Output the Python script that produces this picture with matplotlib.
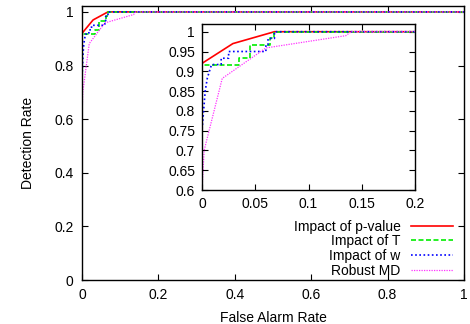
import matplotlib
matplotlib.use("Agg")
import matplotlib.pyplot as plt

plt.rcParams['font.family'] = ['Liberation Sans', 'DejaVu Sans']

labels = ["Impact of p-value", "Impact of T", "Impact of w", "Robust MD"]

pv_x = [0, 0, 0.029, 0.068, 1]
pv_y = [0, 0.92, 0.970, 1.0, 1.0]

t_x = [0, 0, 0.035, 0.035, 0.045, 0.045, 0.064, 0.064, 0.068, 0.068, 1]
t_y = [0, 0.917, 0.917, 0.934, 0.934, 0.967, 0.967, 0.983, 0.983, 1.0, 1.0]

w_x = [0, 0, 0.003, 0.005, 0.008, 0.009, 0.018, 0.018, 0.025, 0.025, 0.060, 0.060, 0.062, 0.062, 0.068, 0.068, 1]
w_y = [0, 0.75, 0.85, 0.883, 0.909, 0.917, 0.917, 0.933, 0.933, 0.950, 0.950, 0.967, 0.967, 0.983, 0.983, 1.0, 1.0]

md_x = [0, 0, 0.002, 0.019, 0.060, 0.135, 0.140, 1]
md_y = [0, 0.6, 0.70, 0.882, 0.959, 0.990, 1.0, 1.0]

series = [(pv_x, pv_y), (t_x, t_y), (w_x, w_y), (md_x, md_y)]
colors = ['#ff0000', '#00ee00', '#0000ff', '#ff33ff']
styles = [dict(ls='-', lw=1.2),
          dict(ls=(0, (3, 1.5)), lw=1.2),
          dict(ls=(0, (1, 1.5)), lw=1.2),
          dict(ls=(0, (1, 1)), lw=0.9)]

FS = 10

fig = plt.figure(figsize=(4.7, 3.24), dpi=100)
ax = fig.add_axes([82/470, 44/324, 382/470, 274/324])
for (x, y), c, s, lab in zip(series, colors, styles, labels):
    ax.plot(x, y, color=c, label=lab, **s)
ax.set_xlim(0, 1)
ax.set_ylim(0, 1.022)
ax.set_xticks([0, 0.2, 0.4, 0.6, 0.8, 1])
ax.set_xticklabels(['0', '0.2', '0.4', '0.6', '0.8', '1'])
ax.set_yticks([0, 0.2, 0.4, 0.6, 0.8, 1])
ax.set_yticklabels(['0', '0.2', '0.4', '0.6', '0.8', '1'])
ax.tick_params(direction='in', top=True, right=True, labelsize=FS, length=4, width=0.8, pad=6)
ax.set_xlabel('False Alarm Rate', fontsize=FS, labelpad=6)
ax.set_ylabel('Detection Rate', fontsize=FS, labelpad=14)
for sp in ax.spines.values():
    sp.set_linewidth(1.0)
leg = ax.legend(loc='lower right', bbox_to_anchor=(0.985, -0.012), markerfirst=False, frameon=False,
                fontsize=FS, handlelength=3.0, handletextpad=0.75, labelspacing=0.05,
                borderaxespad=0.0)

ins = fig.add_axes([202/470, 134/324, 213/470, 166/324])
for (x, y), c, s in zip(series, colors, styles):
    ins.plot(x, y, color=c, **s)
ins.set_xlim(0, 0.2)
ins.set_ylim(0.6, 1.0195)
ins.set_xticks([0, 0.05, 0.1, 0.15, 0.2])
ins.set_xticklabels(['0', '0.05', '0.1', '0.15', '0.2'])
ins.set_yticks([0.6, 0.65, 0.7, 0.75, 0.8, 0.85, 0.9, 0.95, 1])
ins.set_yticklabels(['0.6', '0.65', '0.7', '0.75', '0.8', '0.85', '0.9', '0.95', '1'])
ins.tick_params(direction='in', top=True, right=True, labelsize=FS, length=4, width=0.8, pad=5)
for sp in ins.spines.values():
    sp.set_linewidth(1.0)

fig.savefig('out.png', dpi=100)
